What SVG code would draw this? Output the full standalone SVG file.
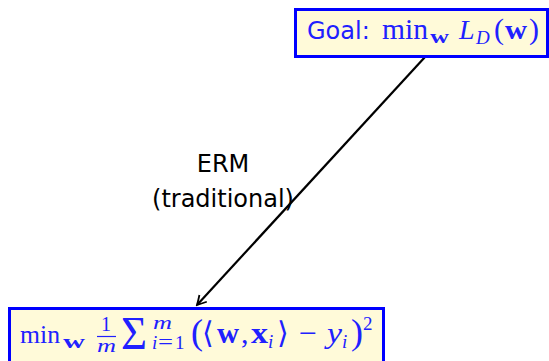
<svg xmlns="http://www.w3.org/2000/svg" width="549" height="361" viewBox="0 0 549 361">
<style>
.box{fill:#fffad9;stroke:#0000ff;stroke-width:3}
.m{font-family:"Liberation Serif","DejaVu Serif",serif;fill:#2020ff}
.g{font-family:"DejaVu Sans","Liberation Sans",sans-serif;fill:#2020ff}
.s{font-family:"DejaVu Sans","Liberation Sans",sans-serif}
.it{font-style:italic}
.b{font-weight:bold}
.lbl{font-family:"DejaVu Sans","Liberation Sans",sans-serif;font-size:24px;fill:#000;text-anchor:middle}
</style>
<defs>
<marker id="ah" viewBox="0 0 12 12" refX="10" refY="6" markerWidth="12" markerHeight="12" markerUnits="userSpaceOnUse" orient="auto">
<path d="M1,1 Q6,4 10,6 Q6,8 1,11" fill="none" stroke="#000" stroke-width="1.8"/>
</marker>
</defs>
<g id="connectors">
<line x1="425" y1="57" x2="197" y2="305" stroke="#000" stroke-width="2.2" marker-end="url(#ah)"/>
<text class="lbl" x="223" y="172">ERM</text>
<text class="lbl" x="223" y="207">(traditional)</text>
</g>
<g id="goal">
<rect class="box" x="295.5" y="9.5" width="252" height="47"/>
<text class="s" font-size="24" x="307" y="39" fill="#2020ff">Goal:</text>
<text class="m" font-size="29" x="382" y="39" textLength="46" lengthAdjust="spacingAndGlyphs">min</text>
<text class="m b" font-size="19" x="430" y="43" textLength="19" lengthAdjust="spacingAndGlyphs">w</text>
<text class="m it" font-size="28" x="459" y="39">L</text>
<text class="m it" font-size="19" x="476" y="44">D</text>
<text class="m" font-size="30" x="494" y="39">(</text>
<text class="m b" font-size="28" x="505" y="39" textLength="22" lengthAdjust="spacingAndGlyphs">w</text>
<text class="m" font-size="30" x="529" y="39">)</text>
</g>
<g id="erm">
<rect class="box" x="9.5" y="308.5" width="374" height="60"/>
<text class="m" font-size="26" x="20" y="343" textLength="40" lengthAdjust="spacingAndGlyphs">min</text>
<text class="m b" font-size="19" x="63" y="348" textLength="22" lengthAdjust="spacingAndGlyphs">w</text>
<text class="m" font-size="20" x="101" y="331">1</text>
<line x1="97" y1="336.5" x2="116" y2="336.5" stroke="#2020ff" stroke-width="1.2"/>
<text class="m it" font-size="19" x="97" y="352" textLength="19" lengthAdjust="spacingAndGlyphs">m</text>
<text class="m" font-size="46" x="121" y="349" textLength="26" lengthAdjust="spacingAndGlyphs">Σ</text>
<text class="m it" font-size="19" x="153" y="329" textLength="19" lengthAdjust="spacingAndGlyphs">m</text>
<text class="m it" font-size="19" x="152" y="349">i</text>
<text class="m" font-size="21" x="158" y="349" textLength="15" lengthAdjust="spacingAndGlyphs">=</text>
<text class="m" font-size="19" x="175" y="349">1</text>
<text class="m" font-size="36" x="191" y="344">(</text>
<text class="g" font-size="30" x="202" y="343">⟨</text>
<text class="m b" font-size="30" x="217" y="343" textLength="22" lengthAdjust="spacingAndGlyphs">w</text>
<text class="m" font-size="30" x="241" y="343">,</text>
<text class="m b" font-size="30" x="251" y="343" textLength="17" lengthAdjust="spacingAndGlyphs">x</text>
<text class="m it" font-size="19" x="268" y="348">i</text>
<text class="g" font-size="30" x="277" y="343">⟩</text>
<text class="m" font-size="30" x="299" y="343" textLength="18" lengthAdjust="spacingAndGlyphs">−</text>
<text class="m it" font-size="30" x="327" y="343" textLength="15" lengthAdjust="spacingAndGlyphs">y</text>
<text class="m it" font-size="19" x="342" y="348">i</text>
<text class="m" font-size="36" x="351" y="344">)</text>
<text class="m" font-size="19" x="363" y="330">2</text>
</g>
</svg>
